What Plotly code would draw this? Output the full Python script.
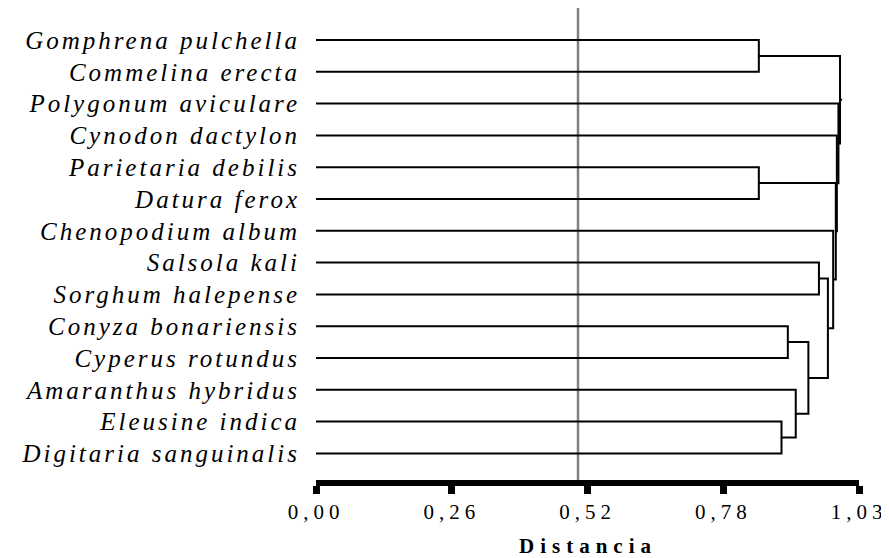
import plotly.graph_objects as go

# Leaves, top to bottom
species = [
    "Gomphrena pulchella",
    "Commelina erecta",
    "Polygonum aviculare",
    "Cynodon dactylon",
    "Parietaria debilis",
    "Datura ferox",
    "Chenopodium album",
    "Salsola kali",
    "Sorghum halepense",
    "Conyza bonariensis",
    "Cyperus rotundus",
    "Amaranthus hybridus",
    "Eleusine indica",
    "Digitaria sanguinalis",
]

# Linkage (clusters 0..13 are leaves, 14.. are merges in order)
merge_a = [0, 4, 12, 9, 11, 17, 7, 20, 6, 15, 3, 2, 14]
merge_b = [1, 5, 13, 10, 16, 18, 8, 19, 21, 22, 23, 24, 25]
merge_dist = [0.840, 0.840, 0.883, 0.895, 0.910, 0.934, 0.954, 0.971,
              0.981, 0.986, 0.988, 0.991, 0.994]

x_tick_vals = [0.0, 0.2575, 0.515, 0.7725, 1.03]
x_tick_text = ["0,00", "0,26", "0,52", "0,78", "1,03"]
cut_distance = 0.497

# ---- build dendrogram paths from the linkage ----
pos = list(range(len(species)))
hgt = [0.0] * len(species)
xs, ys = [], []
for a, b, d in zip(merge_a, merge_b, merge_dist):
    xs += [hgt[a], d, d, hgt[b], None]
    ys += [pos[a], pos[a], pos[b], pos[b], None]
    pos.append((pos[a] + pos[b]) / 2)
    hgt.append(d)
# root stub
xs += [hgt[-1], hgt[-1] + 0.004, None]
ys += [pos[-1], pos[-1], None]

fig = go.Figure()
fig.add_trace(go.Scatter(
    x=xs, y=ys, mode="lines",
    line=dict(color="black", width=2),
    hoverinfo="skip", showlegend=False, cliponaxis=False,
))

fig.add_shape(type="line", xref="x", yref="paper",
              x0=cut_distance, x1=cut_distance, y0=0, y1=1,
              line=dict(color="#808080", width=2.5), layer="below")

serif = "Liberation Serif, Times New Roman, Times, serif"

# page body has an 8px margin, so the figure is sized/offset to compensate
fig.update_layout(
    width=881, height=550,
    margin=dict(l=308, r=30, t=0, b=78, autoexpand=False),
    paper_bgcolor="white", plot_bgcolor="white",
    font=dict(family=serif, color="black"),
    xaxis=dict(
        range=[0, 1.03],
        automargin=False,
        tickvals=x_tick_vals,
        ticktext=['<span style="letter-spacing:5px">%s</span>' % t for t in x_tick_text],
        tickfont=dict(family=serif, size=21, color="black"),
        showline=True, linewidth=6, linecolor="black",
        ticks="outside", ticklen=8, tickwidth=7, tickcolor="black",
        showgrid=False, zeroline=False,
    ),
    yaxis=dict(
        range=[len(species) - 1 + 0.836, -1.006],
        automargin=False,
        tickvals=list(range(len(species))),
        ticktext=['<span style="letter-spacing:3px"><i>%s</i></span>' % s for s in species],
        tickfont=dict(family=serif, size=25, color="black"),
        ticks="", ticklabelstandoff=15,
        showline=False, showgrid=False, zeroline=False,
    ),
    annotations=[dict(
        text='<span style="letter-spacing:6px"><b>Distancia</b></span>',
        xref="paper", yref="paper", x=0.5, y=-0.14,
        xanchor="center", yanchor="middle", showarrow=False,
        font=dict(family=serif, size=21, color="black"),
    )],
)

fig.write_html("out.html")
